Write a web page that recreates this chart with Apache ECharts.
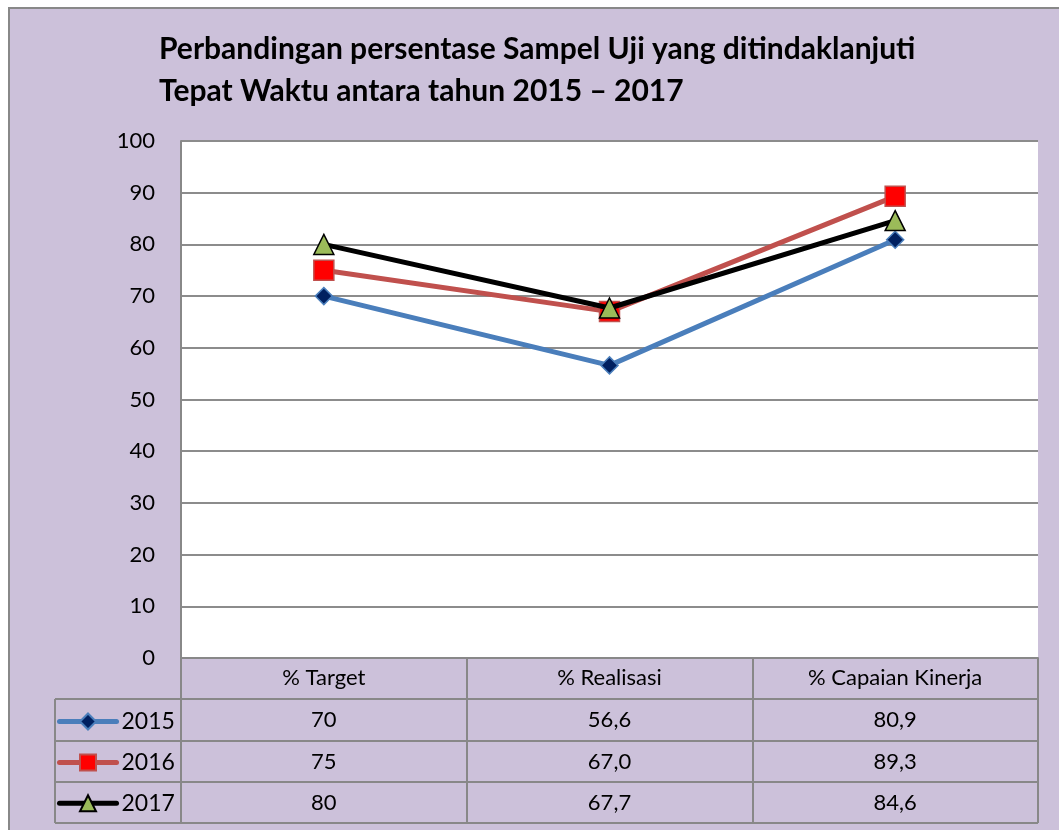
<!DOCTYPE html>
<html><head><meta charset="utf-8">
<script src="https://cdn.jsdelivr.net/npm/echarts@6/dist/echarts.min.js"></script>
<style>html,body{margin:0;padding:0;background:#fff}#c{width:1059px;height:830px}</style>
</head><body><div id="c"></div>
<script>
var categories = ['% Target', '% Realisasi', '% Capaian Kinerja'];
var years = ['2015', '2016', '2017'];
var s2015 = [70, 56.6, 80.9];
var s2016 = [75, 67.0, 89.3];
var s2017 = [80, 67.7, 84.6];
var tableText2015 = ['70', '56,6', '80,9'];
var tableText2016 = ['75', '67,0', '89,3'];
var tableText2017 = ['80', '67,7', '84,6'];
var yTicks = [0, 10, 20, 30, 40, 50, 60, 70, 80, 90, 100];

var FONT = 'Lato';
var chart = echarts.init(document.getElementById('c'), null, {renderer: 'canvas'});
var gridL = 181, gridT = 141, gridR = 21, gridB = 172;
var rowTops = [699, 741, 782, 823];

var option = {
  animation: false,
  backgroundColor: 'transparent',
  title: {
    text: 'Perbandingan persentase Sampel Uji yang ditindaklanjuti\nTepat Waktu antara tahun 2015 \u2013 2017',
    left: 154, top: 23,
    textStyle: {fontFamily: FONT, fontWeight: 'bold', fontSize: 30, lineHeight: 42, color: '#000'}
  },
  legend: {
    orient: 'vertical', left: 52, top: 705, itemWidth: 57, itemHeight: 20, itemGap: 17.9,
    data: years,
    lineStyle: {width: 5, cap: 'round'},
    textStyle: {fontFamily: FONT, fontSize: 23, lineHeight: 20, color: '#000'}
  },
  grid: {left: gridL, top: gridT, right: gridR, bottom: gridB, show: true, backgroundColor: '#fff', borderWidth: 0},
  xAxis: {
    type: 'category', data: categories, boundaryGap: true,
    axisLine: {show: true, lineStyle: {color: '#888', width: 2}},
    axisTick: {show: true, length: 165, lineStyle: {color: '#888', width: 2}},
    axisLabel: {fontFamily: FONT, fontSize: 22, color: '#000', margin: 9, interval: 0}
  },
  yAxis: {
    type: 'value', min: 0, max: 100, interval: 10,
    axisLine: {show: true, lineStyle: {color: '#888', width: 2}},
    axisTick: {show: false},
    axisLabel: {fontFamily: FONT, fontSize: 22, color: '#000', margin: 26,
      formatter: function (v) { return yTicks.indexOf(v) >= 0 ? String(v) : ''; }},
    splitLine: {show: true, lineStyle: {color: '#8c8c8c', width: 2}}
  },
  series: [
    {name: '2015', type: 'line', data: s2015, symbol: 'diamond', symbolSize: 17,
     lineStyle: {color: '#4a7ebb', width: 5}, itemStyle: {color: '#002060', borderColor: '#4a7ebb', borderWidth: 1.5}, z: 3},
    {name: '2016', type: 'line', data: s2016, symbol: 'rect', symbolSize: 20,
     lineStyle: {color: '#c0504d', width: 5}, itemStyle: {color: '#ff0000', borderColor: '#c0504d', borderWidth: 1.5}, z: 4},
    {name: '2017', type: 'line', data: s2017, symbol: 'triangle', symbolSize: 20,
     lineStyle: {color: '#000', width: 5}, itemStyle: {color: '#9bbb59', borderColor: '#000', borderWidth: 1.5}, z: 5}
  ]
};
chart.setOption(option);

function buildGraphics() {
  var els = [];
  els.push({type: 'rect', z: -10, silent: true, shape: {x: 9, y: 8, width: 1200, height: 1000},
    style: {fill: '#ccc1da', stroke: '#888', lineWidth: 2}});
  var rightX = 1059 - gridR;
  rowTops.forEach(function (y) {
    els.push({type: 'line', z: 10, shape: {x1: 55, y1: y, x2: rightX, y2: y}, style: {stroke: '#888', lineWidth: 2}});
  });
  els.push({type: 'line', z: 10, shape: {x1: 55, y1: rowTops[0], x2: 55, y2: rowTops[3]}, style: {stroke: '#888', lineWidth: 2}});
  var rows = [tableText2015, tableText2016, tableText2017];
  rows.forEach(function (row, i) {
    var cy = (rowTops[i] + rowTops[i + 1]) / 2;
    row.forEach(function (t, j) {
      var cx = chart.convertToPixel({xAxisIndex: 0}, categories[j]);
      els.push({type: 'text', z: 10, x: cx, y: cy,
        style: {text: t, fontFamily: FONT, fontSize: 22, fill: '#000', align: 'center', verticalAlign: 'middle'}});
    });
  });
  chart.setOption({graphic: {elements: els}});
}
buildGraphics();
</script></body></html>
